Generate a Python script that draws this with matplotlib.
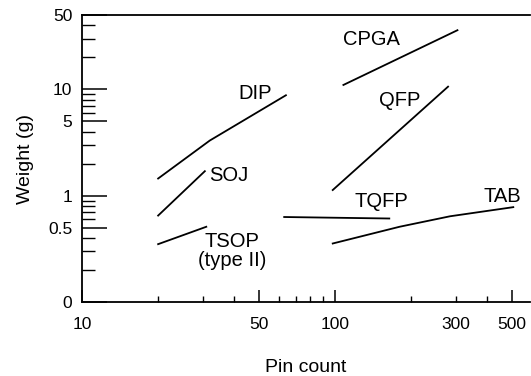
import matplotlib
matplotlib.use("Agg")
import matplotlib.pyplot as plt
from matplotlib.ticker import FixedLocator, FuncFormatter

plt.rcParams['font.family'] = ['Liberation Sans', 'DejaVu Sans']

# package curves: pin count vs weight (g)
dip_pins = [20, 32, 64]
dip_weight = [1.45, 3.3, 8.8]
soj_pins = [20, 30.6]
soj_weight = [0.65, 1.7]
tsop_pins = [20, 31]
tsop_weight = [0.35, 0.51]
cpga_pins = [108, 305]
cpga_weight = [11.0, 36.0]
qfp_pins = [98, 280]
qfp_weight = [1.13, 10.6]
tqfp_pins = [63, 164]
tqfp_weight = [0.63, 0.61]
tab_pins = [98, 180, 285, 507]
tab_weight = [0.355, 0.51, 0.64, 0.78]

x_major = [10, 50, 100, 500]
x_minor = [20, 30, 40, 60, 70, 80, 90, 200, 300, 400]
y_major = [0.1, 0.5, 1, 5, 10, 50]
y_major_labels = ["0", "0.5", "1", "5", "10", "50"]
y_minor = [0.2, 0.3, 0.4, 0.6, 0.7, 0.8, 0.9, 2, 3, 4, 6, 7, 8, 9, 20, 30, 40]

fig = plt.figure(figsize=(5.31, 3.76), dpi=100)
ax = fig.add_axes([0.1544, 0.1968, 0.8436, 0.7632])

lw = 1.3
for xs, ys in [(dip_pins, dip_weight), (soj_pins, soj_weight), (tsop_pins, tsop_weight),
               (cpga_pins, cpga_weight), (qfp_pins, qfp_weight),
               (tqfp_pins, tqfp_weight), (tab_pins, tab_weight)]:
    ax.plot(xs, ys, color='black', lw=lw)

ax.set_xscale('log')
ax.set_yscale('log')
ax.set_xlim(10, 590)
ax.set_ylim(0.1, 50)

ax.xaxis.set_major_locator(FixedLocator(x_major))
ax.xaxis.set_minor_locator(FixedLocator(x_minor))
ax.xaxis.set_major_formatter(FuncFormatter(lambda v, p: "%g" % v))
ax.xaxis.set_minor_formatter(FuncFormatter(lambda v, p: "300" if abs(v - 300) < 1 else ""))
ax.yaxis.set_major_locator(FixedLocator(y_major))
ax.yaxis.set_minor_locator(FixedLocator(y_minor))
ax.set_yticklabels(y_major_labels)

ax.tick_params(axis='x', which='major', direction='in', length=9, width=1.1, pad=11, labelsize=12.5)
ax.tick_params(axis='x', which='minor', direction='in', length=4.5, width=1.0, pad=11, labelsize=12.5)
ax.tick_params(axis='y', which='major', direction='in', length=18, width=1.1, pad=7, labelsize=12.5)
ax.tick_params(axis='y', which='minor', direction='in', length=9, width=1.0)

ax.spines['right'].set_visible(False)
for s in ['left', 'bottom', 'top']:
    ax.spines[s].set_linewidth(1.3)

ax.set_xlabel("Pin count", fontsize=14, labelpad=19)
ax.set_ylabel("Weight (g)", fontsize=14, labelpad=10)

fs = 14.5
ax.text(140, 29.3, "CPGA", fontsize=fs, ha='center', va='center')
ax.text(48.3, 9.2, "DIP", fontsize=fs, ha='center', va='center')
ax.text(180, 7.9, "QFP", fontsize=fs, ha='center', va='center')
ax.text(38.1, 1.54, "SOJ", fontsize=fs, ha='center', va='center')
ax.text(152, 0.88, "TQFP", fontsize=fs, ha='center', va='center')
ax.text(457, 0.98, "TAB", fontsize=fs, ha='center', va='center')
ax.text(39.2, 0.30, "TSOP\n(type II)", fontsize=fs, ha='center', va='center', linespacing=1.0)

fig.savefig("out.png", dpi=100)
